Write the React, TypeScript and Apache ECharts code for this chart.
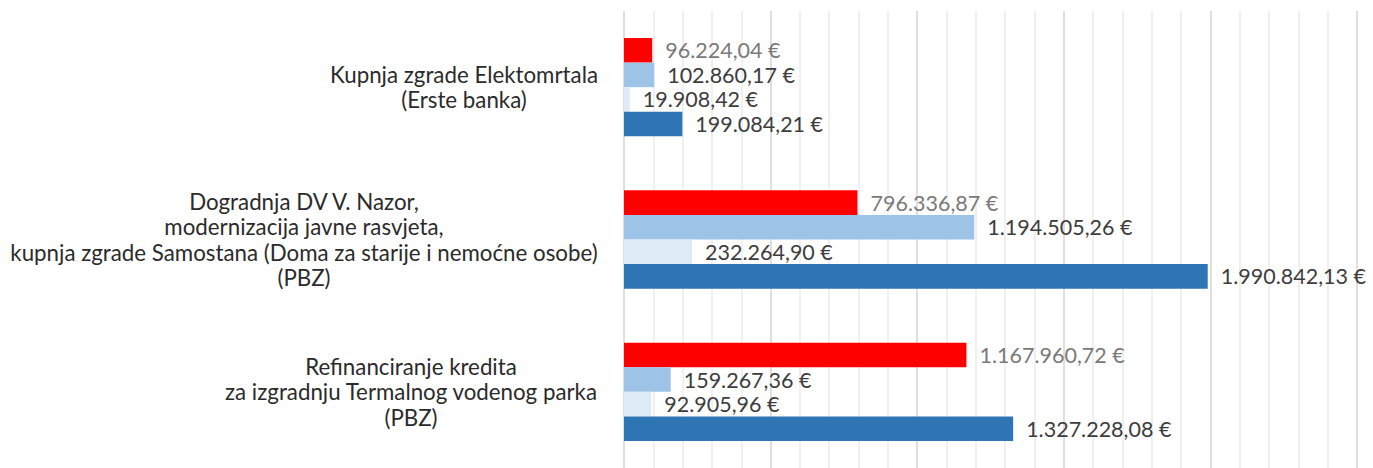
import React, { useEffect, useRef } from "react";
import * as echarts from "echarts";

const categories: string[] = [
  "Kupnja zgrade Elektomrtala\n(Erste banka)",
  "Dogradnja DV V. Nazor,\nmodernizacija javne rasvjeta,\nkupnja zgrade Samostana (Doma za starije i nemoćne osobe)\n(PBZ)",
  "Refinanciranje kredita\nza izgradnju Termalnog vodenog parka\n(PBZ)",
];

const seriesRed: number[] = [96224.04, 796336.87, 1167960.72];
const seriesLightBlue: number[] = [102860.17, 1194505.26, 159267.36];
const seriesPaleBlue: number[] = [19908.42, 232264.9, 92905.96];
const seriesDarkBlue: number[] = [199084.21, 1990842.13, 1327228.08];

const axisMin = 0;
const axisMax = 2500000;
const majorInterval = 500000;

const CAT_FONT = "Lato";
const VAL_SIZE = 21.5;
const LONGEST_LINE_PX = 587;

function formatEuro(v: number): string {
  const fixed = v.toFixed(2);
  const [intPart, dec] = fixed.split(".");
  const withDots = intPart.replace(/\B(?=(\d{3})+(?!\d))/g, ".");
  return `${withDots},${dec} €`;
}

function measure(text: string, font: string): number {
  const c = document.createElement("canvas");
  const ctx = c.getContext("2d");
  if (!ctx) return text.length * 9;
  ctx.font = font;
  return ctx.measureText(text).width;
}

export default function App() {
  const ref = useRef<HTMLDivElement>(null);

  useEffect(() => {
    if (!ref.current) return;
    const chart = echarts.init(ref.current, undefined, { renderer: "svg" });

    const allLines = categories.flatMap((c) => c.split("\n"));
    const baseFont = `20px ${CAT_FONT}`;
    const maxW20 = Math.max(...allLines.map((l) => measure(l, baseFont)));
    const catSize = Math.round((20 * LONGEST_LINE_PX * 10) / maxW20) / 10;
    const font = `${catSize}px ${CAT_FONT}`;

    const rich: Record<string, any> = {};
    categories.forEach((cat, i) => {
      const w = Math.max(...cat.split("\n").map((l) => measure(l, font)));
      rich["c" + i] = {
        width: Math.ceil(w) + 2,
        align: "center",
        fontFamily: CAT_FONT,
        fontSize: catSize,
        lineHeight: 25.5,
        color: "#2b2b2b",
      };
    });

    const mkSeries = (name: string, data: number[], color: string, labelColor: string) => ({
      name,
      type: "bar",
      data,
      barGap: "0%",
      barCategoryGap: "35.5%",
      itemStyle: { color },
      label: {
        show: true,
        position: "right",
        distance: 13,
        color: labelColor,
        fontFamily: CAT_FONT,
        fontSize: VAL_SIZE,
        formatter: (p: any) => formatEuro(p.value),
      },
    });

    chart.setOption({
      animation: false,
      backgroundColor: "#ffffff",
      grid: { left: 624, right: 16, top: 11, height: 460, containLabel: false },
      xAxis: {
        type: "value",
        min: axisMin,
        max: axisMax,
        interval: majorInterval,
        axisLabel: { show: false },
        axisLine: { show: false },
        axisTick: { show: false },
        splitLine: { show: true, lineStyle: { color: "#d4d4d4", width: 1.5 } },
        minorTick: { show: false, splitNumber: 5 },
        minorSplitLine: { show: true, lineStyle: { color: "#ebebeb", width: 1.5 } },
      },
      yAxis: {
        type: "category",
        data: categories,
        inverse: true,
        axisLine: { show: false },
        axisTick: { show: false },
        axisLabel: {
          margin: 25,
          align: "right",
          formatter: (value: string, index: number) =>
            value
              .split("\n")
              .map((l) => `{c${index}|${l}}`)
              .join("\n"),
          rich,
        },
      },
      series: [
        mkSeries("A", seriesRed, "#ff0000", "#7a7a7a"),
        mkSeries("B", seriesLightBlue, "#9dc3e6", "#3d3d3d"),
        mkSeries("C", seriesPaleBlue, "#deebf7", "#3d3d3d"),
        mkSeries("D", seriesDarkBlue, "#2e75b6", "#3d3d3d"),
      ],
    });

    return () => chart.dispose();
  }, []);

  return (
    <div
      ref={ref}
      style={{ position: "fixed", left: 0, top: 0, width: 1373, height: 468, background: "#fff" }}
    />
  );
}
